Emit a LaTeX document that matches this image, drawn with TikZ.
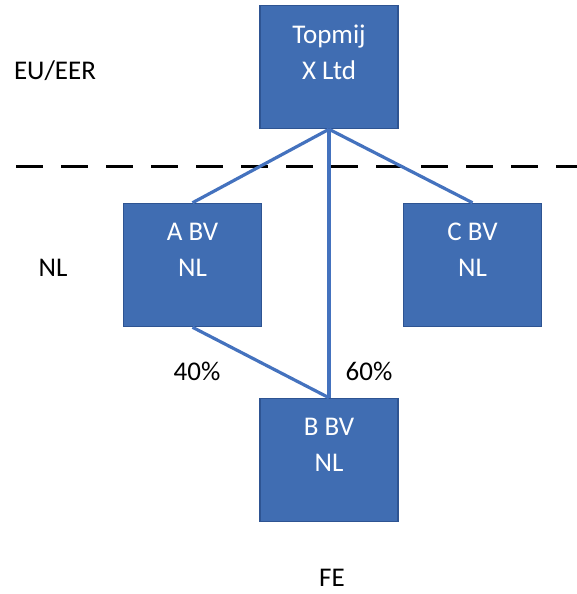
\documentclass[tikz,border=0pt]{standalone}
\usepackage{fontspec}
\setmainfont{Carlito}
\usepackage{tikz}
\definecolor{boxblue}{RGB}{64,109,178}
\definecolor{boxedge}{RGB}{46,84,146}
\definecolor{linkblue}{RGB}{68,114,190}

\begin{document}
\begin{tikzpicture}[x=1pt, y=-1pt,
	entity/.style={draw=boxedge, fill=boxblue, line width=1.5pt, minimum width=138pt, minimum height=123pt, text=white, align=center, font=\fontsize{27}{36}\selectfont},
	share/.style={draw=linkblue, line width=3.2pt},
	lbl/.style={font=\fontsize{27}{32}\selectfont}]
	\useasboundingbox (0,0) rectangle (577,594);
	\coordinate (cutl) at (16,166);
	\coordinate (cutr) at (577,166);
	\draw[black, line width=3pt, dash pattern=on 27pt off 18pt] (cutl) -- (cutr);
	\node[entity] (top) at (329,67) {Topmij\\X Ltd\\[-6pt]};
	\node[entity] (abv) at (192.5,265) {A BV\\NL\\[-6pt]};
	\node[entity] (cbv) at (472.5,265) {C BV\\NL\\[-6pt]};
	\node[entity] (bbv) at (329,460) {B BV\\NL\\[-6pt]};
	\draw[share] (top.south) -- (abv.north);
	\draw[share] (top.south) -- (cbv.north);
	\draw[share] (top.south) -- (bbv.north);
	\draw[share] (abv.south) -- (bbv.north);
	\node[lbl] (eu) at (55,71) {EU/EER};
	\node[lbl] (nl) at (53,268) {NL};
	\node[lbl] (p40) at (197,371) {40\%};
	\node[lbl] (p60) at (369,371) {60\%};
	\node[lbl, anchor=base, inner sep=0pt] (fe) at (332,586) {FE};
\end{tikzpicture}
\end{document}
